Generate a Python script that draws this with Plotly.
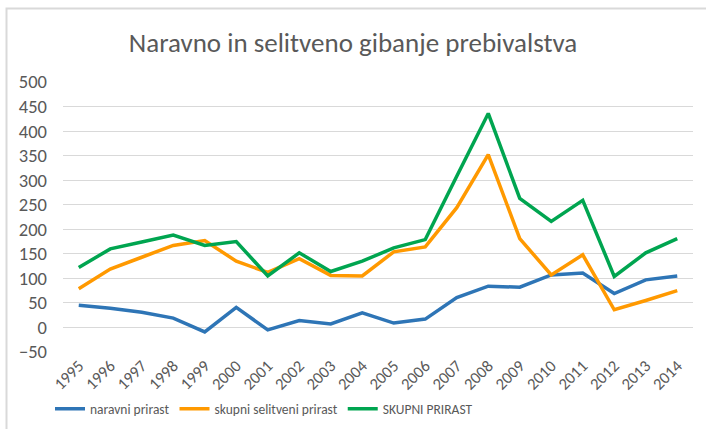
import plotly.graph_objects as go

years = [str(y) for y in range(1995, 2015)]
naravni = [45, 39, 31, 19, -9, 41, -5, 14, 7, 30, 9, 17, 61, 84, 82, 107, 111, 69, 97, 105]
selitveni = [79, 119, 143, 167, 177, 135, 112, 140, 106, 105, 154, 164, 244, 352, 181, 107, 148, 36, 55, 75]
skupni = [122, 160, 174, 188, 167, 175, 105, 152, 114, 135, 162, 179, 308, 436, 263, 216, 259, 104, 152, 181]

names = ["naravni prirast", "skupni selitveni prirast", "SKUPNI PRIRAST"]
colors = ["#2E75B6", "#FF9900", "#00A550"]

FONT = "Carlito, Calibri, Lato, sans-serif"
fig = go.Figure()
for name, vals, c in zip(names, [naravni, selitveni, skupni], colors):
    fig.add_trace(go.Scatter(x=years, y=vals, mode="lines", name=name,
                             line=dict(color=c, width=3.5)))

L, R, T, B = 63, 13, 82, 77
W, H = 706, 429
pw, ph = W - L - R, H - T - B

fig.update_layout(
    width=W, height=H,
    margin=dict(l=L, r=R, t=T, b=B, autoexpand=False),
    paper_bgcolor="white", plot_bgcolor="white",
    font=dict(family=FONT, color="#595959", size=16),
    title=dict(text="Naravno in selitveno gibanje prebivalstva", x=0.5, xanchor="center",
               y=1 - 43 / H, yanchor="middle", font=dict(size=27, color="#595959")),
    xaxis=dict(type="category", range=[-0.5, 19.5], tickangle=-45, showgrid=False,
               showline=False, ticks="", tickfont=dict(size=16.5), fixedrange=True,
               automargin=False),
    yaxis=dict(range=[-50, 500], dtick=50, showgrid=True, gridcolor="#D9D9D9", gridwidth=1,
               zeroline=False, showline=False, ticks="", tickfont=dict(size=18.5),
               ticklabelstandoff=15, automargin=False, fixedrange=True),
    legend=dict(orientation="h", x=(50 - L) / pw, xanchor="left", y=-(409 - (H - B)) / ph,
                yanchor="middle", font=dict(size=13.5, color="#595959"), itemwidth=30,
                tracegroupgap=0),
    showlegend=True,
)

# outer chart border (top and left visible)
fig.add_shape(type="rect", xref="paper", yref="paper",
              x0=(6.5 - L) / pw, x1=(W + 20 - L) / pw,
              y0=-(H + 20 - (H - B)) / ph, y1=((H - B) - 8.5) / ph,
              line=dict(color="#D9D9D9", width=2), fillcolor="rgba(0,0,0,0)", layer="below")

fig.write_html("out.html", config={"displayModeBar": False},
               post_script="document.body.style.margin='0';")
